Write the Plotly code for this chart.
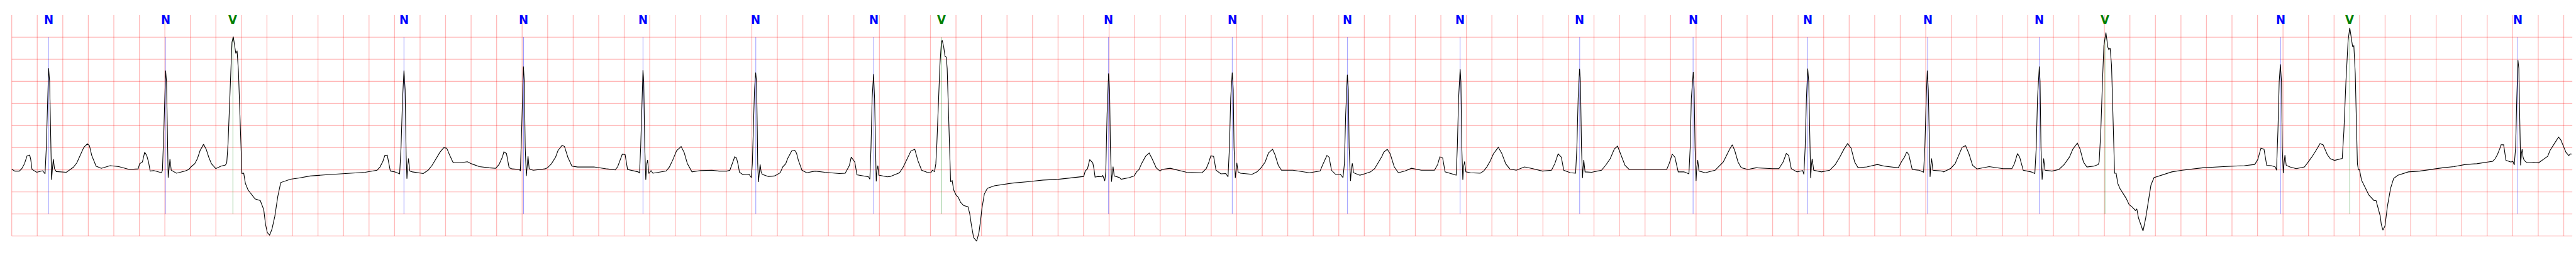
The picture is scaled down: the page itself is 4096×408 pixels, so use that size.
import plotly.graph_objects as go

# ---- ECG trace (time in s, amplitude in mV) ----
ecg_t = [
 0.000,0.024,0.059,0.079,0.100,0.120,0.141,0.149,0.159,0.196,0.243,0.261,0.271,0.280,0.289,0.297,0.305,0.312,0.319,0.326,
 0.335,0.349,0.428,0.449,0.483,0.510,0.538,0.565,0.593,0.609,0.627,0.661,0.702,0.771,0.839,0.921,0.990,1.003,1.024,1.042,
 1.058,1.072,1.085,1.113,1.174,1.181,1.192,1.202,1.206,1.213,1.220,1.226,1.233,1.240,1.250,1.263,1.291,1.359,1.387,1.407,
 1.434,1.455,1.476,1.503,1.523,1.544,1.565,1.599,1.640,1.674,1.685,1.695,1.704,1.715,1.726,1.736,1.749,1.756,1.766,1.777,
 1.786,1.795,1.804,1.818,1.831,1.852,1.879,1.907,1.948,1.962,1.975,1.989,2.003,2.021,
 2.039,2.062,2.085,2.108,2.139,2.185,2.247,2.339,2.462,2.616,2.770,2.863,2.886,2.909,2.924,2.943,2.955,2.967,3.001,3.040,
 3.051,3.063,3.074,3.083,3.091,3.097,3.103,3.109,3.120,3.140,3.225,3.263,3.294,3.325,3.356,3.386,3.409,3.433,3.460,3.510,
 3.571,3.602,3.664,3.741,
 3.793,3.819,3.845,3.857,3.877,3.898,3.922,3.979,3.986,3.996,4.005,4.010,4.017,4.024,4.033,4.040,4.046,4.055,4.065,4.088,
 4.178,4.199,4.230,4.262,4.281,4.313,4.332,4.358,4.390,4.435,4.563,4.666,4.730,4.749,4.769,4.785,4.807,4.826,4.910,4.920,
 4.929,4.939,4.947,4.953,4.961,4.969,4.977,4.983,4.993,5.010,5.025,5.128,5.154,5.179,5.211,5.246,5.269,5.295,5.331,5.398,
 5.487,5.543,
 5.605,5.628,5.642,5.654,5.666,5.680,5.694,5.703,5.732,5.779,5.796,5.804,5.812,5.821,5.830,5.837,5.843,5.846,5.852,5.859,
 5.865,5.873,5.882,5.929,5.976,5.995,6.023,6.042,6.066,6.080,6.099,6.113,6.136,6.150,6.165,6.193,6.230,6.296,6.372,6.485,
 6.532,6.546,6.565,6.579,6.593,6.607,6.624,6.673,6.715,6.725,6.734,6.743,6.754,6.762,6.769,6.775,6.781,6.788,6.795,6.861,
 6.885,6.957,6.987,7.017,7.047,7.077,7.101,7.131,7.173,7.203,7.215,7.232,7.242,7.250,7.262,7.274,7.286,7.292,7.304,7.314,
 7.324,7.331,7.340,7.350,7.358,7.370,7.382,7.400,7.418,7.436,7.460,7.494,7.508,7.520,7.538,7.562,7.580,7.592,7.604,7.622,
 7.646,7.700,7.748,7.843,7.963,8.083,8.203,8.323,8.401,8.413,8.431,8.448,8.472,8.481,8.490,8.514,8.544,8.550,8.566,8.574,
 8.584,8.596,8.604,8.610,8.619,8.625,8.631,8.640,8.682,
 8.694,8.758,8.796,8.815,8.835,8.854,8.886,8.914,8.937,8.969,8.999,9.014,9.079,9.143,9.207,9.329,9.361,9.380,9.397,9.419,
 9.438,9.476,9.515,9.532,9.543,9.553,9.565,9.573,9.579,9.589,9.595,9.601,9.611,9.630,9.720,9.759,9.791,9.823,9.849,9.881,
 9.900,9.926,9.951,10.041,10.170,10.208,10.253,10.272,10.292,10.307,10.324,10.343,10.375,10.413,10.433,10.444,10.454,10.467,10.475,10.481,
 10.492,10.499,10.506,10.516,10.555,
 10.566,10.610,10.649,10.681,10.713,10.739,10.752,10.780,10.803,10.835,10.867,10.918,10.970,11.047,11.150,11.175,11.192,11.214,11.233,11.278,
 11.320,11.329,11.339,11.351,11.357,11.364,11.372,11.378,11.386,11.396,11.432,11.509,11.535,11.560,11.586,11.612,11.650,11.676,11.708,11.740,
 11.791,11.855,11.920,11.997,12.067,12.093,12.119,12.144,12.163,12.215,12.256,12.266,12.276,12.287,12.294,12.302,12.310,12.315,12.320,12.330,
 12.382,12.459,12.491,
 12.527,12.560,12.585,12.604,12.624,12.643,12.675,12.771,12.900,12.970,12.989,13.013,13.034,13.060,13.105,13.144,13.154,13.163,13.178,13.185,
 13.192,13.200,13.206,13.213,13.223,13.272,13.349,13.387,13.413,13.439,13.464,13.484,13.503,13.529,13.554,13.606,13.670,13.798,13.849,13.882,
 13.907,13.926,13.946,13.991,14.036,14.045,14.055,14.065,14.075,14.083,14.091,14.098,14.104,14.110,14.122,14.183,14.247,
 14.292,14.326,14.360,14.388,14.415,14.443,14.470,14.538,14.621,14.675,14.785,14.812,14.833,14.851,14.867,14.894,14.949,14.983,14.993,15.004,
 15.012,15.020,15.027,15.034,15.040,15.046,15.056,15.127,15.141,15.196,15.230,15.264,15.285,15.312,15.339,15.367,15.401,15.497,15.606,15.675,
 15.695,15.719,15.736,15.764,15.825,15.855,15.866,15.876,15.890,15.896,15.903,15.912,15.918,15.924,15.935,15.990,16.044,16.085,16.126,16.154,
 16.188,16.209,16.236,16.263,16.318,16.352,
 16.359,16.372,16.385,16.396,16.412,16.427,16.435,16.445,16.456,16.464,16.472,16.480,16.492,16.505,16.521,16.546,16.570,16.594,16.619,16.643,
 16.654,16.667,16.684,16.703,16.724,16.749,16.765,16.789,16.846,16.928,17.009,17.171,17.334,17.497,17.578,17.602,17.627,17.651,17.672,17.708,
 17.740,17.749,17.760,17.770,17.779,17.788,17.794,17.802,17.809,17.815,17.825,17.854,17.903,17.968,17.992,18.025,18.058,18.090,18.114,18.147,
 18.171,18.204,18.264,18.277,18.293,18.310,18.323,18.336,18.345,18.355,18.366,18.375,18.383,18.391,18.399,18.415,18.440,18.472,18.513,18.529,
 18.545,18.562,18.570,18.583,18.599,18.618,18.643,18.667,18.700,18.748,
 18.782,18.871,18.961,19.050,19.140,19.229,19.319,19.408,19.444,19.462,19.480,19.498,19.509,19.529,19.538,19.547,19.587,19.601,19.612,19.623,
 19.632,19.641,19.648,19.655,19.662,19.668,19.674,19.681,19.690,19.713,19.766,19.802,19.829,19.856,19.874,19.892,19.919,19.937,19.959,19.977,
 19.999,20.017,20.039,20.053,20.066,
]
ecg_mv = [
 0.015,-0.030,-0.030,0.026,0.137,0.316,0.331,0.230,0.007,-0.056,-0.022,-0.093,0.509,1.623,2.299,1.995,0.509,-0.227,0.026,0.241,
 0.026,-0.041,-0.056,-0.011,0.056,0.156,0.342,0.509,0.587,0.546,0.323,0.082,0.033,0.093,0.071,0.007,0.019,0.137,0.175,0.397,
 0.323,0.175,-0.030,-0.019,-0.067,-0.011,0.880,1.995,2.247,1.995,0.509,-0.178,0.026,0.241,-0.011,-0.030,-0.078,-0.030,0.007,0.071,
 0.137,0.249,0.435,0.576,0.472,0.286,0.137,0.026,0.082,0.108,0.156,0.583,1.252,2.292,2.886,3.016,2.738,2.634,2.693,2.218,
 1.438,0.583,-0.085,-0.078,-0.308,-0.457,-0.550,-0.661,-0.698,-0.791,-0.903,-1.237,-1.423,-1.478,
 -1.348,-1.051,-0.606,-0.290,-0.264,-0.215,-0.189,-0.141,-0.115,-0.085,-0.056,-0.011,0.063,0.193,0.323,0.331,0.175,-0.030,-0.048,-0.093,
 0.509,1.623,2.247,1.809,0.323,-0.204,0.063,0.256,-0.030,-0.048,-0.085,-0.011,0.100,0.249,0.397,0.501,0.490,0.323,0.156,0.156,
 0.182,0.137,0.071,0.045,
 0.033,0.119,0.286,0.405,0.368,0.045,0.019,0.007,-0.030,0.880,1.995,2.337,1.995,0.509,-0.141,0.137,0.305,0.026,0.007,-0.011,
 0.019,0.045,0.137,0.286,0.435,0.553,0.527,0.286,0.082,0.063,0.063,0.019,-0.004,0.071,0.212,0.353,0.342,0.007,-0.048,-0.078,
 0.509,1.623,2.255,1.995,0.509,-0.227,0.137,0.219,-0.085,-0.019,-0.078,-0.030,0.063,0.212,0.435,0.527,0.397,0.137,-0.048,-0.019,
 -0.011,-0.030,
 -0.030,-0.011,0.100,0.175,0.293,0.267,0.100,-0.056,-0.115,-0.104,-0.178,0.137,0.880,1.809,2.199,1.995,0.880,0.137,-0.279,-0.011,
 0.119,-0.048,-0.104,-0.152,-0.141,-0.115,-0.067,0.063,0.137,0.249,0.342,0.427,0.442,0.379,0.212,-0.011,-0.067,-0.030,-0.056,-0.085,
 -0.078,0.007,0.100,0.286,0.230,0.175,-0.115,-0.141,-0.160,-0.215,0.509,1.623,2.162,1.623,0.323,-0.264,-0.011,0.093,-0.123,-0.160,
 -0.152,-0.067,0.063,0.249,0.427,0.464,0.212,-0.011,-0.056,-0.067,-0.011,-0.041,0.137,0.583,1.438,2.366,2.905,2.931,2.775,2.571,
 2.552,2.292,1.438,0.323,-0.271,-0.245,-0.457,-0.568,-0.624,-0.736,-0.810,-0.836,-0.996,-1.237,-1.534,-1.616,-1.423,-1.163,-0.866,-0.550,
 -0.420,-0.364,-0.345,-0.301,-0.271,-0.234,-0.215,-0.178,-0.152,-0.030,0.026,0.230,0.156,0.026,-0.167,-0.152,-0.160,-0.123,-0.253,-0.048,
 1.252,2.181,1.809,0.509,-0.271,-0.085,0.071,-0.141,-0.178,
 -0.215,-0.178,-0.141,-0.048,0.007,0.137,0.305,0.379,0.249,0.045,-0.030,0.007,0.033,-0.011,-0.056,-0.067,0.026,0.156,0.316,0.305,
 -0.011,-0.093,-0.085,-0.160,0.509,1.623,2.199,1.809,0.509,-0.189,-0.011,0.156,-0.048,-0.078,-0.104,-0.048,0.045,0.175,0.379,0.464,
 0.342,0.100,-0.011,-0.011,-0.067,-0.048,-0.030,0.100,0.230,0.323,0.286,-0.011,-0.104,-0.104,-0.178,0.137,1.252,2.151,1.809,0.509,
 -0.253,0.026,0.145,-0.067,-0.115,
 -0.123,-0.085,-0.048,0.026,0.175,0.305,0.397,0.464,0.360,0.063,-0.067,-0.030,0.033,-0.011,-0.011,0.119,0.293,0.267,-0.048,-0.085,
 -0.123,0.509,1.623,2.273,1.995,0.509,-0.227,0.063,0.186,-0.048,-0.067,-0.078,-0.030,0.063,0.193,0.360,0.509,0.379,0.137,0.019,
 -0.011,0.063,0.026,-0.030,-0.011,0.137,0.360,0.286,-0.011,-0.067,-0.078,0.509,1.623,2.285,1.995,0.509,-0.189,0.063,0.219,-0.048,
 -0.056,-0.011,0.100,
 0.249,0.472,0.535,0.397,0.249,0.100,0.007,0.007,0.007,0.007,0.137,0.353,0.286,-0.048,-0.048,-0.093,0.509,1.623,2.218,1.809,
 0.509,-0.253,0.063,0.219,-0.030,-0.067,-0.011,0.100,0.175,0.323,0.472,0.565,0.435,0.175,0.045,0.007,0.045,0.026,0.026,0.175,
 0.368,0.323,0.026,-0.048,-0.019,-0.104,0.509,1.623,2.292,1.995,0.509,-0.189,0.100,0.249,-0.011,-0.048,-0.011,
 0.119,0.286,0.472,0.591,0.490,0.175,0.045,0.063,0.119,0.082,0.045,0.193,0.286,0.405,0.342,0.007,-0.011,-0.056,0.509,1.623,
 2.247,1.809,0.509,-0.160,0.100,0.256,-0.011,-0.030,-0.048,0.033,0.137,0.360,0.509,0.546,0.360,0.100,0.019,0.071,0.026,0.026,
 0.137,0.368,0.286,-0.011,-0.048,-0.085,0.509,1.623,2.337,1.995,0.509,-0.223,0.100,0.256,-0.011,-0.030,0.007,0.119,0.286,0.472,
 0.602,0.472,0.175,0.063,0.082,0.119,
 0.175,0.880,1.995,2.812,3.109,2.775,2.719,2.756,2.366,1.438,0.509,-0.078,-0.078,-0.308,-0.420,-0.531,-0.643,-0.791,-0.847,-0.921,
 -0.884,-1.088,-1.237,-1.386,-1.088,-0.606,-0.345,-0.178,-0.123,-0.048,-0.011,0.045,0.071,0.093,0.119,0.230,0.490,0.464,0.100,0.093,
 0.063,-0.011,0.880,1.995,2.385,1.995,0.509,-0.078,0.175,0.331,0.100,0.063,0.026,0.063,0.156,0.286,0.435,0.591,0.565,0.342,
 0.249,0.212,0.256,0.880,1.995,2.924,3.213,2.998,2.793,2.805,2.181,1.066,0.137,-0.004,0.007,-0.234,-0.383,-0.568,-0.698,-0.698,
 -0.866,-1.051,-1.237,-1.367,-1.274,-0.828,-0.420,-0.197,-0.123,-0.085,
 -0.048,-0.030,0.007,0.045,0.071,0.119,0.137,0.175,0.193,0.249,0.342,0.472,0.565,0.565,0.360,0.212,0.175,0.193,0.108,0.509,
 1.623,2.485,2.292,0.880,0.100,0.360,0.464,0.286,0.212,0.156,0.167,0.156,0.212,0.267,0.305,0.435,0.565,0.639,0.739,0.676,
 0.527,0.397,0.323,0.360,0.353,
]

# ---- beat annotations ----
beat_t = [0.2885, 1.2046, 1.7333, 3.0737, 4.0112, 4.9470, 5.8312, 6.7546, 7.2886, 8.5957, 9.5650,
          10.4685, 11.3508, 12.2879, 13.1767, 14.0754, 15.0148, 15.8897, 16.4047, 17.7811, 18.3226, 19.6402]
beat_label = ["N", "N", "V", "N", "N", "N", "N", "N", "V", "N", "N",
              "N", "N", "N", "N", "N", "N", "N", "V", "N", "V", "N"]

# ---- grid ----
grid_x = [round(0.2 * i, 1) for i in range(101)]       # 0.2 s major grid
grid_y = [-1.5, -1.0, -0.5, 0.0, 0.5, 1.0, 1.5, 2.0, 2.5, 3.0]   # 0.5 mV
t_end = 20.067
y_top = 3.5
y_bot = -1.5
mark_lo, mark_hi = -1.0, 3.0

label_color = {"N": "#0000ff", "V": "#008000"}
line_color = {"N": "rgba(0,0,255,0.5)", "V": "rgba(0,128,0,0.5)"}

fig = go.Figure()

# vertical grid lines
vx, vy = [], []
for g in grid_x:
    vx += [g, g, None]
    vy += [y_bot, y_top, None]
fig.add_trace(go.Scatter(x=vx, y=vy, mode="lines", hoverinfo="skip",
                         line=dict(color="rgba(255,0,0,0.28)", width=1.3), showlegend=False))
# horizontal grid lines
hx, hy = [], []
for g in grid_y:
    hx += [0, t_end, None]
    hy += [g, g, None]
fig.add_trace(go.Scatter(x=hx, y=hy, mode="lines", hoverinfo="skip",
                         line=dict(color="rgba(255,0,0,0.28)", width=1.3), showlegend=False))

# annotation marker lines
for lab in ["N", "V"]:
    mx, my = [], []
    for t, l in zip(beat_t, beat_label):
        if l == lab:
            mx += [t, t, None]
            my += [mark_lo, mark_hi, None]
    fig.add_trace(go.Scatter(x=mx, y=my, mode="lines", hoverinfo="skip",
                             line=dict(color=line_color[lab], width=0.8), showlegend=False))

# ECG trace
fig.add_trace(go.Scatter(x=ecg_t, y=ecg_mv, mode="lines",
                         line=dict(color="black", width=1.1), showlegend=False))

# labels
for t, l in zip(beat_t, beat_label):
    fig.add_annotation(x=t, y=3.405, text=l, showarrow=False, xanchor="center", yanchor="middle",
                       font=dict(family="DejaVu Sans Condensed, DejaVu Sans", size=20,
                                 color=label_color[l], weight="bold"))

fig.update_layout(
    width=4096, height=408,
    margin=dict(l=0, r=0, t=0, b=0),
    paper_bgcolor="white", plot_bgcolor="white",
    xaxis=dict(range=[-0.092, 20.096], visible=False, fixedrange=True),
    yaxis=dict(range=[-1.975, 3.843], visible=False, fixedrange=True),
)

fig.write_html("out.html", config={"displayModeBar": False, "staticPlot": True},
               post_script="document.body.style.margin='0';document.body.style.overflow='hidden';")
